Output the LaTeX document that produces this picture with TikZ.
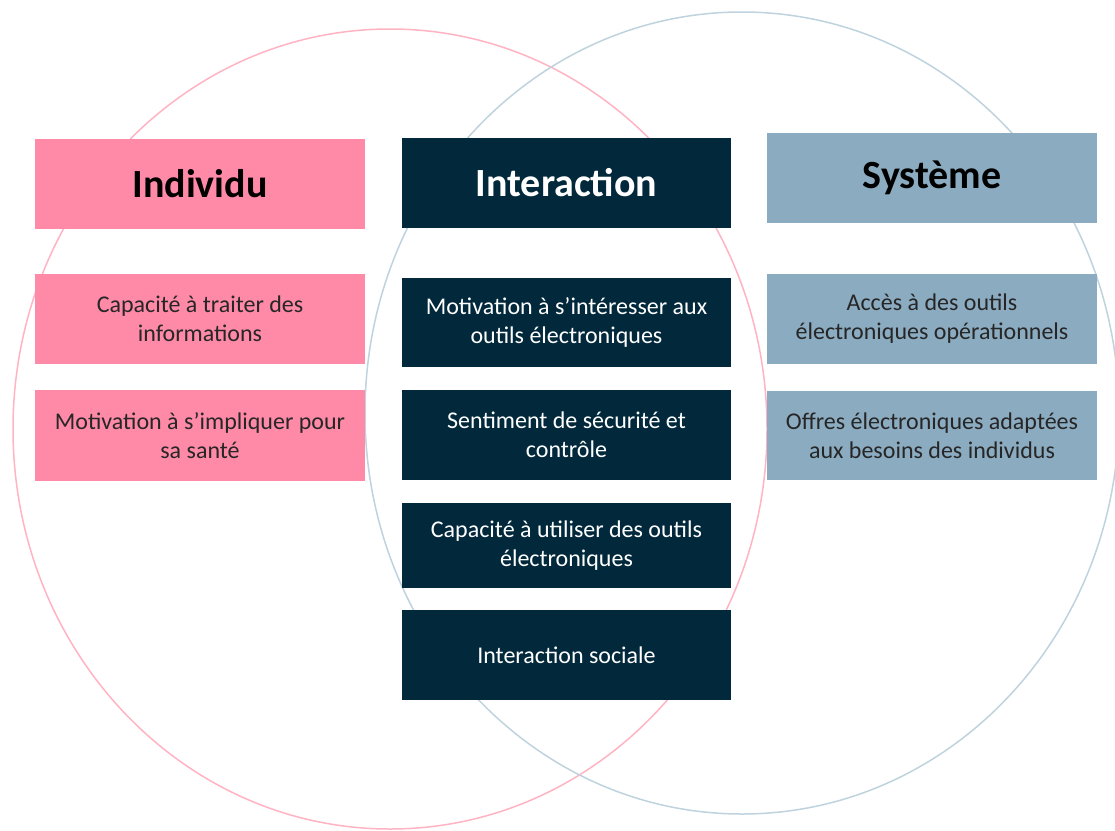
\documentclass[tikz,border=0pt]{standalone}
\usepackage{fontspec}
\setmainfont{Carlito}
\usepackage{tikz}
\definecolor{rosefond}{HTML}{FF8AA8}
\definecolor{rosetrait}{HTML}{FFB3C3}
\definecolor{marine}{HTML}{02293B}
\definecolor{bleugris}{HTML}{8BABC0}
\definecolor{bleutrait}{HTML}{BFD3DE}
\definecolor{texte}{HTML}{262626}
\tikzset{
  boite/.style={rectangle, inner sep=0pt, align=center, minimum width=330, font={\fontsize{24}{29}\selectfont}},
  titre/.style={boite, minimum height=90, font={\fontsize{40}{44}\selectfont\bfseries}},
  individu/.style={fill=rosefond, text=black},
  interaction/.style={fill=marine, text=white},
  systeme/.style={fill=bleugris, text=black}
}

\begin{document}
\begin{tikzpicture}[x=1pt,y=-1pt]
			%%%%% START %%%%%
			\useasboundingbox (0,0) rectangle (1115,830);
			
			\draw[line width=1.5pt, color=rosetrait] (390, 429) ellipse (377 and 400);
			\draw[line width=1.5pt, color=bleutrait] (742, 413) ellipse (377 and 401);
			
			% Individu
			\node[titre, individu] (individu) at (200, 184) {Individu};
			\node[boite, individu, text=texte, minimum height=90] (traiter) at (200, 319) {Capacité à traiter des\\informations};
			\node[boite, individu, text=texte, minimum height=91] (impliquer) at (200, 435.5) {Motivation à s’impliquer pour\\sa santé};
			
			% Interaction
			\node[titre, interaction, minimum width=329] (interaction) at (566.5, 183) {Interaction};
			\node[boite, interaction, minimum width=329, minimum height=89] (interesser) at (566.5, 322.5) {Motivation à s’intéresser aux\\outils électroniques};
			\node[boite, interaction, minimum width=329, minimum height=90] (securite) at (566.5, 435) {Sentiment de sécurité et\\contrôle};
			\node[boite, interaction, minimum width=329, minimum height=85] (utiliser) at (566.5, 545.5) {Capacité à utiliser des outils\\électroniques};
			\node[boite, interaction, minimum width=329, minimum height=90] (sociale) at (566.5, 655) {Interaction sociale};
			
			% Systeme
			\node[titre, systeme] (systeme) at (932, 178) {Système};
			\node[boite, systeme, text=texte, minimum height=90] (acces) at (932, 319) {Accès à des outils\\électroniques opérationnels};
			\node[boite, systeme, text=texte, minimum height=89] (offres) at (932, 435.5) {Offres électroniques adaptées\\aux besoins des individus};
			
			%%%%% END %%%%%
\end{tikzpicture}
\end{document}
